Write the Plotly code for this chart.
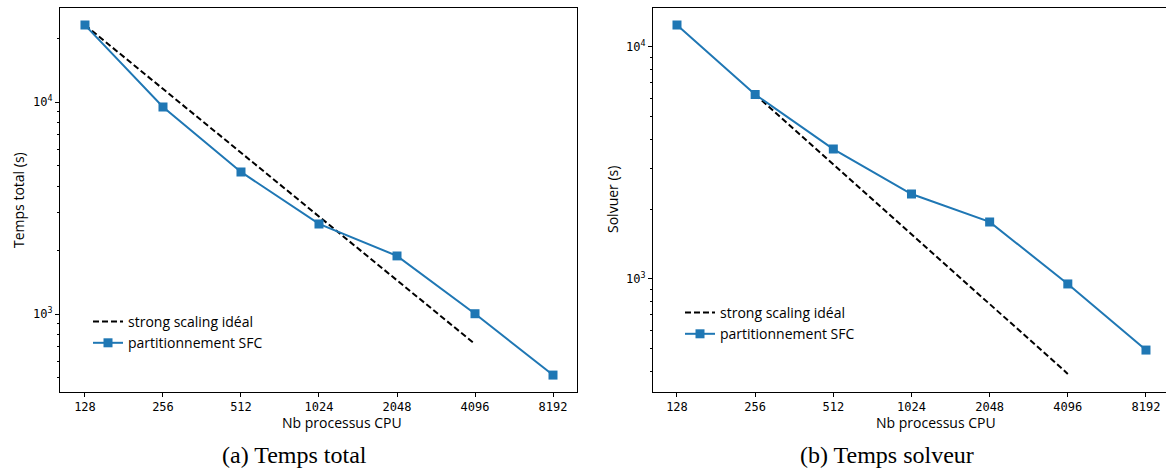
import plotly.graph_objects as go

W, H = 1166, 472

procs = [128, 256, 512, 1024, 2048, 4096, 8192]
proc_labels = ["128", "256", "512", "1024", "2048", "4096", "8192"]

total_sfc = [23070, 9470, 4680, 2660, 1880, 1003, 515]
total_ideal_procs = [128, 4096]
total_ideal = [23070, 721]

solver_sfc = [12440, 6240, 3630, 2324, 1762, 952, 494]
solver_ideal_procs = [256, 4096]
solver_ideal = [6240, 390]

ytick_vals = [1000, 10000]
ytick_text = ["10<sup>3</sup>", "10<sup>4</sup>"]
minor_vals = [m * 10 ** e for e in [2, 3, 4] for m in range(2, 10)]

BLUE = "#1f77b4"
FONT = "Open Sans"
TICKFONT = dict(family="DejaVu Sans Mono", size=12, color="black")


def px(x):
    return x / W


def py(y):
    return 1 - y / H


fig = go.Figure()

fig.add_trace(go.Scatter(x=total_ideal_procs, y=total_ideal, mode="lines",
                         line=dict(color="black", width=2, dash="6px,3px"),
                         name="strong scaling idéal", xaxis="x", yaxis="y", legend="legend"))
fig.add_trace(go.Scatter(x=procs, y=total_sfc, mode="lines+markers",
                         line=dict(color=BLUE, width=2),
                         marker=dict(symbol="square", size=9, color=BLUE),
                         name="partitionnement SFC", xaxis="x", yaxis="y", legend="legend"))
fig.add_trace(go.Scatter(x=solver_ideal_procs, y=solver_ideal, mode="lines",
                         line=dict(color="black", width=2, dash="6px,3px"),
                         name="strong scaling idéal", xaxis="x2", yaxis="y2", legend="legend2"))
fig.add_trace(go.Scatter(x=procs, y=solver_sfc, mode="lines+markers",
                         line=dict(color=BLUE, width=2),
                         marker=dict(symbol="square", size=9, color=BLUE),
                         name="partitionnement SFC", xaxis="x2", yaxis="y2", legend="legend2"))

common_x = dict(type="log", tickvals=procs, ticktext=proc_labels, ticks="outside",
                ticklen=4, tickwidth=1, tickcolor="black", showline=True, linecolor="black",
                linewidth=1, mirror=True, showgrid=False, zeroline=False, tickfont=TICKFONT)
common_y = dict(type="log", tickvals=ytick_vals, ticktext=ytick_text, ticks="outside",
                ticklen=4, tickwidth=1, tickcolor="black", showline=True, linecolor="black",
                linewidth=1, mirror=True, showgrid=False, zeroline=False, tickfont=TICKFONT,
                minor=dict(tickvals=minor_vals, ticks="outside", ticklen=2, tickwidth=1,
                           tickcolor="black", showgrid=False))

ydom = [py(392), py(7.5)]

fig.update_layout(
    width=W, height=H,
    margin=dict(l=0, r=0, t=0, b=0),
    paper_bgcolor="white", plot_bgcolor="white",
    font=dict(family=FONT, size=14, color="black"),
    xaxis=dict(common_x, domain=[px(60), px(577)], range=[2.0108, 4.0060], anchor="y"),
    yaxis=dict(common_y, domain=ydom, range=[2.632, 4.446], anchor="x"),
    xaxis2=dict(common_x, domain=[px(653), px(1166)], range=[2.0148, 3.9905], anchor="y2"),
    yaxis2=dict(common_y, domain=ydom, range=[2.513, 4.170], anchor="x2"),
    legend=dict(x=px(88), y=py(306), xanchor="left", yanchor="top",
                bgcolor="rgba(0,0,0,0)", font=dict(family=FONT, size=14),
                tracegroupgap=0),
    legend2=dict(x=px(680), y=py(297), xanchor="left", yanchor="top",
                 bgcolor="rgba(0,0,0,0)", font=dict(family=FONT, size=14),
                 tracegroupgap=0),
    showlegend=True,
)

annos = [
    dict(text="Temps total (s)", x=px(18), y=py(200), textangle=-90),
    dict(text="Solvuer (s)", x=px(612), y=py(200), textangle=-90),
    dict(text="Nb processus CPU", x=px(342), y=py(422)),
    dict(text="Nb processus CPU", x=px(936), y=py(422)),
    dict(text="(a) Temps total", x=px(294), y=py(455),
         font=dict(family="Liberation Serif", size=24, color="black")),
    dict(text="(b) Temps solveur", x=px(887), y=py(455),
         font=dict(family="Liberation Serif", size=24, color="black")),
]
for a in annos:
    a.setdefault("font", dict(family=FONT, size=14, color="black"))
    fig.add_annotation(xref="paper", yref="paper", showarrow=False,
                       xanchor="center", yanchor="middle", **a)

fig.write_html("out.html", config={"displayModeBar": False},
               post_script="document.body.style.margin='0';document.body.style.overflow='hidden';")
